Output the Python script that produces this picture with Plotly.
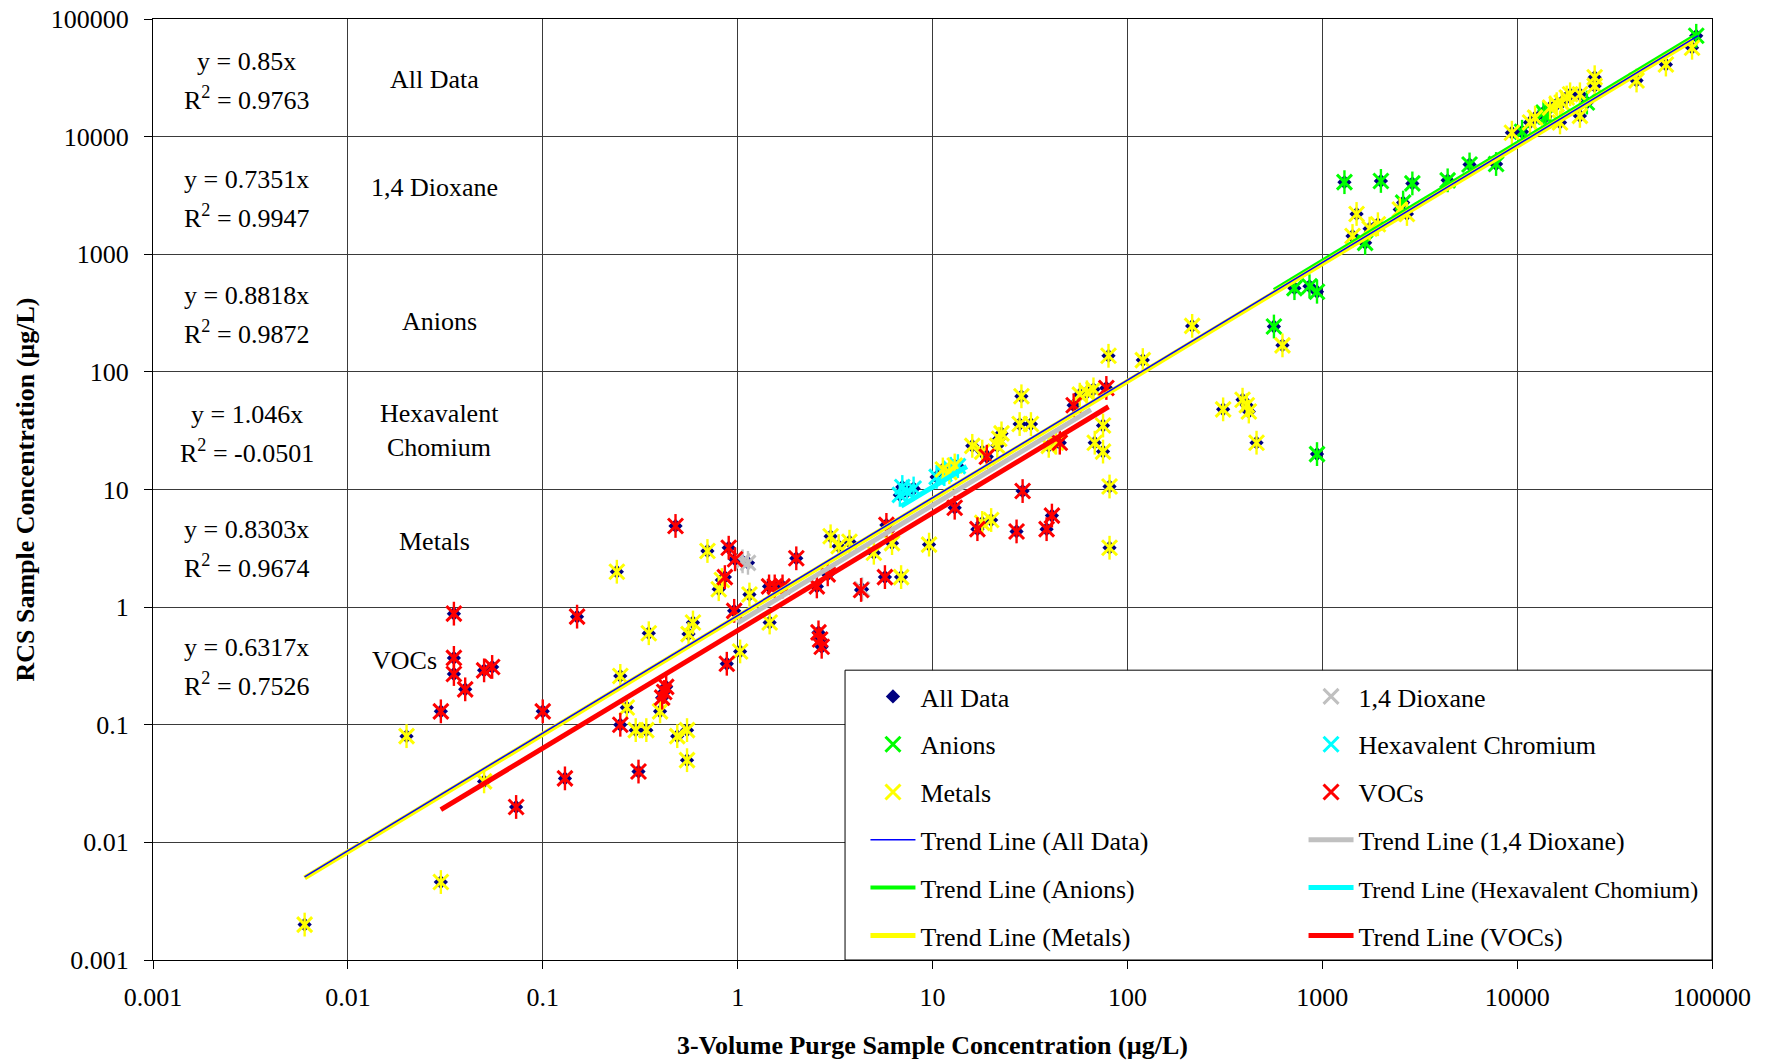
import plotly.graph_objects as go

FONT = "Liberation Serif, Times New Roman, serif"

# ---------------- tick labels ----------------
tick_vals = [0.001, 0.01, 0.1, 1, 10, 100, 1000, 10000, 100000]
tick_text = ["0.001", "0.01", "0.1", "1", "10", "100", "1000", "10000", "100000"]

# ---------------- data (3-volume purge x, RCS y) ----------------
dioxane_x = [1.06, 1.13, 4.35]
dioxane_y = [2.45, 2.38, 1.42]

anions_x = [565, 720, 860, 940, 940, 1300, 1660, 2000, 2600, 2900, 4400, 5700, 7800,
            10600, 13650, 14000, 22800, 83000]
anions_y = [243, 515, 535, 480, 20, 4100, 1250, 4200, 2750, 4000, 4250, 5800, 5850,
            11000, 16000, 14800, 19500, 72000]

hexcr_x = [6.8, 7.0, 7.4, 8.0, 10.5, 11.5, 12.4, 13.5]
hexcr_y = [9.0, 10.5, 9.6, 10.2, 12.8, 13.5, 15.0, 15.8]

metals_x = [0.006, 0.03, 0.02, 0.05, 0.24, 0.35, 0.25, 0.27, 0.3, 0.34, 0.4, 0.49, 0.55,
            0.55, 0.59, 0.56, 0.7, 0.8, 0.83, 1.03, 1.15, 1.46, 3.0, 3.3, 3.75, 5.0, 6.2,
            6.9, 9.6, 11.3, 12.2, 13, 16, 18, 21.5, 22.6, 22, 28, 32, 28.6, 18, 20, 39.5,
            43, 57, 62, 67, 68, 75, 75, 80, 120, 81, 81, 215, 310, 390, 410, 420, 460, 625,
            1430, 1500, 1750, 1930, 2500, 2720, 9400, 11650, 12360, 14760, 15960, 16930,
            17970, 18700, 16600, 21000, 21000, 25000, 25000, 41000, 58000, 79000]
metals_y = [0.002, 0.0046, 0.08, 0.033, 2.0, 0.6, 0.26, 0.14, 0.09, 0.09, 0.13, 0.08, 0.09,
            0.05, 0.74, 0.59, 3.0, 1.42, 1.7, 0.42, 1.28, 0.74, 4.0, 3.3, 3.6, 2.9, 3.5,
            1.8, 3.4, 14.8, 14, 16, 23.5, 21, 23.5, 30, 27, 36, 36, 62, 5.2, 5.5, 23.5,
            25, 64, 67, 71, 25, 21, 35, 137, 126, 10.6, 3.2, 246, 48, 58, 52, 46, 25, 168,
            1430, 2200, 1650, 1800, 2400, 2200, 10800, 13200, 14500, 17660, 18880, 19500,
            21500, 22900, 13200, 15000, 22900, 32000, 27000, 30000, 41000, 57000]

vocs_x = [0.03, 0.035, 0.035, 0.035, 0.04, 0.05, 0.055, 0.073, 0.1, 0.13, 0.15, 0.25, 0.31,
          0.41, 0.42, 0.43, 0.48, 0.88, 0.86, 0.9, 0.97, 0.96, 1.45, 1.55, 1.7, 2.0, 2.55,
          2.6, 2.65, 2.7, 2.9, 4.3, 5.7, 5.8, 13, 17, 19, 27, 29, 38.5, 41, 45, 53, 78]
vocs_y = [0.13, 0.88, 0.37, 0.27, 0.2, 0.29, 0.31, 0.02, 0.13, 0.035, 0.83, 0.1, 0.04,
          0.17, 0.19, 0.21, 4.9, 0.33, 1.8, 3.2, 2.55, 0.93, 1.5, 1.5, 1.5, 2.6, 1.5,
          0.61, 0.53, 0.46, 1.9, 1.4, 1.8, 5.0, 7.0, 4.6, 19, 4.4, 9.7, 4.6, 6.0, 25, 52, 73]

# trend lines: slope of y = a*x and x extent of each fitted line
trend_names = ["All Data", "1,4 Dioxane", "Anions", "Hexavalent Chomium", "Metals", "VOCs"]
trend_slopes = [0.85, 0.7351, 0.8818, 1.046, 0.8303, 0.6317]
trend_r2 = ["0.9763", "0.9947", "0.9872", "-0.0501", "0.9674", "0.7526"]
trend_xmin = [0.006, 1.0, 565, 6.9, 0.006, 0.03]
trend_xmax = [85000, 65, 85000, 15, 80000, 80]

# table labels (one entry per line)
table_labels = [["All Data"], ["1,4 Dioxane"], ["Anions"], ["Hexavalent", "Chomium"],
                ["Metals"], ["VOCs"]]

all_x = dioxane_x + anions_x + hexcr_x + metals_x + vocs_x
all_y = dioxane_y + anions_y + hexcr_y + metals_y + vocs_y

# ---------------- styles ----------------
NAVY = "#000080"
cat_specs = [
    ("1,4 Dioxane", dioxane_x, dioxane_y, "#C0C0C0", "legend2"),
    ("Anions", anions_x, anions_y, "#00FF00", "legend"),
    ("Hexavalent Chromium", hexcr_x, hexcr_y, "#00FFFF", "legend2"),
    ("Metals", metals_x, metals_y, "#FFFF00", "legend"),
    ("VOCs", vocs_x, vocs_y, "#FF0000", "legend2"),
]
trend_colors = ["#0000FF", "#C0C0C0", "#00FF00", "#00FFFF", "#FFFF00", "#FF0000"]
trend_widths = [1.5, 5, 4, 5, 5, 5]
trend_legend = ["legend", "legend2", "legend", "legend2", "legend", "legend2"]
trend_draw_order = [1, 2, 3, 4, 5, 0]   # thin blue all-data line drawn last

fig = go.Figure()

fig.add_trace(go.Scatter(
    x=all_x, y=all_y, mode="markers", name="All Data",
    marker=dict(symbol="diamond", size=11, color=NAVY),
    legend="legend", legendgroup="alldata", legendrank=1))

for k, (name, xs, ys, col, lg) in enumerate(cat_specs):
    fig.add_trace(go.Scatter(
        x=xs, y=ys, mode="markers", name=name, legend=lg, legendgroup=name,
        legendrank=2 + k,
        marker=dict(symbol="x-thin-open", size=15, color=col,
                    line=dict(color=col, width=3))))
    fig.add_trace(go.Scatter(
        x=xs, y=ys, mode="markers", name=name, legend=lg, legendgroup=name,
        showlegend=False, hoverinfo="skip",
        marker=dict(symbol="line-ns-open", size=17, color=col,
                    line=dict(color=col, width=2.4))))

for i in trend_draw_order:
    nm = trend_names[i]
    xs = [trend_xmin[i], trend_xmax[i]]
    ys = [trend_slopes[i] * v for v in xs]
    label = f"Trend Line ({nm})"
    if nm == "Hexavalent Chomium":
        label = f'<span style="font-size:24px">{label}</span>'
    fig.add_trace(go.Scatter(
        x=xs, y=ys, mode="lines", name=label,
        legend=trend_legend[i], legendgroup="tl" + str(i), legendrank=10 + i,
        line=dict(color=trend_colors[i], width=trend_widths[i])))

# ---------------- table annotations ----------------
row_centers = [4.48, 3.48, 2.49, 1.48, 0.5, -0.5]
label_x = [-1.555, -1.555, -1.53, -1.53, -1.555, -1.71]
label_y = [4.486, 3.567, 2.43, 1.5, 0.556, -0.453]
HALF = 0.158
tfont = dict(family=FONT, size=26, color="black")
annotations = []
for i in range(6):
    annotations.append(dict(x=-2.52, y=row_centers[i] + HALF, xref="x", yref="y",
                            text=f"y = {trend_slopes[i]}x", showarrow=False, font=tfont))
    annotations.append(dict(x=-2.52, y=row_centers[i] - HALF, xref="x", yref="y",
                            text=f"R<sup>2</sup> = {trend_r2[i]}", showarrow=False,
                            font=tfont))
    lines = table_labels[i]
    n = len(lines)
    for j, t in enumerate(lines):
        off = (n - 1) / 2 - j
        annotations.append(dict(x=label_x[i], y=label_y[i] + off * 0.29, xref="x", yref="y",
                                text=t, showarrow=False, font=tfont))

# ---------------- layout ----------------
axis_common = dict(
    type="log", tickmode="array", tickvals=tick_vals, ticktext=tick_text,
    showgrid=True, gridcolor="#3a3a3a", gridwidth=1,
    showline=True, linecolor="black", linewidth=1, mirror=True,
    ticks="outside", ticklen=8, tickcolor="black", tickwidth=1,
    tickfont=dict(family=FONT, size=26, color="black"),
    zeroline=False, automargin=False, ticklabeloverflow="allow",
)

legend_common = dict(xanchor="left", yanchor="top", bgcolor="rgba(0,0,0,0)",
                     borderwidth=0, tracegroupgap=11, itemwidth=45,
                     font=dict(family=FONT, size=26, color="black"))

fig.update_layout(
    width=1772, height=1062,
    margin=dict(l=145, r=68, t=11, b=110, autoexpand=False),
    paper_bgcolor="white", plot_bgcolor="white",
    font=dict(family=FONT, size=26, color="black"),
    xaxis=dict(axis_common, range=[-3, 5], ticklabelstandoff=6,
               title=dict(text="3-Volume Purge Sample Concentration (µg/L)",
                          font=dict(family=FONT, size=26, color="black", weight="bold"),
                          standoff=24)),
    yaxis=dict(axis_common, range=[-3, 5], ticklabelstandoff=10,
               title=dict(text="RCS Sample Concentration (µg/L)",
                          font=dict(family=FONT, size=26, color="black", weight="bold"),
                          standoff=8)),
    legend=dict(legend_common, x=0.457, y=0.305),
    legend2=dict(legend_common, x=0.738, y=0.305),
    shapes=[dict(type="rect", xref="paper", yref="paper",
                 x0=0.4439, x1=1.0, y0=0, y1=0.308,
                 fillcolor="white", line=dict(color="black", width=1),
                 layer="above")],
    annotations=annotations,
    showlegend=True,
)

fig.write_html("out.html")
